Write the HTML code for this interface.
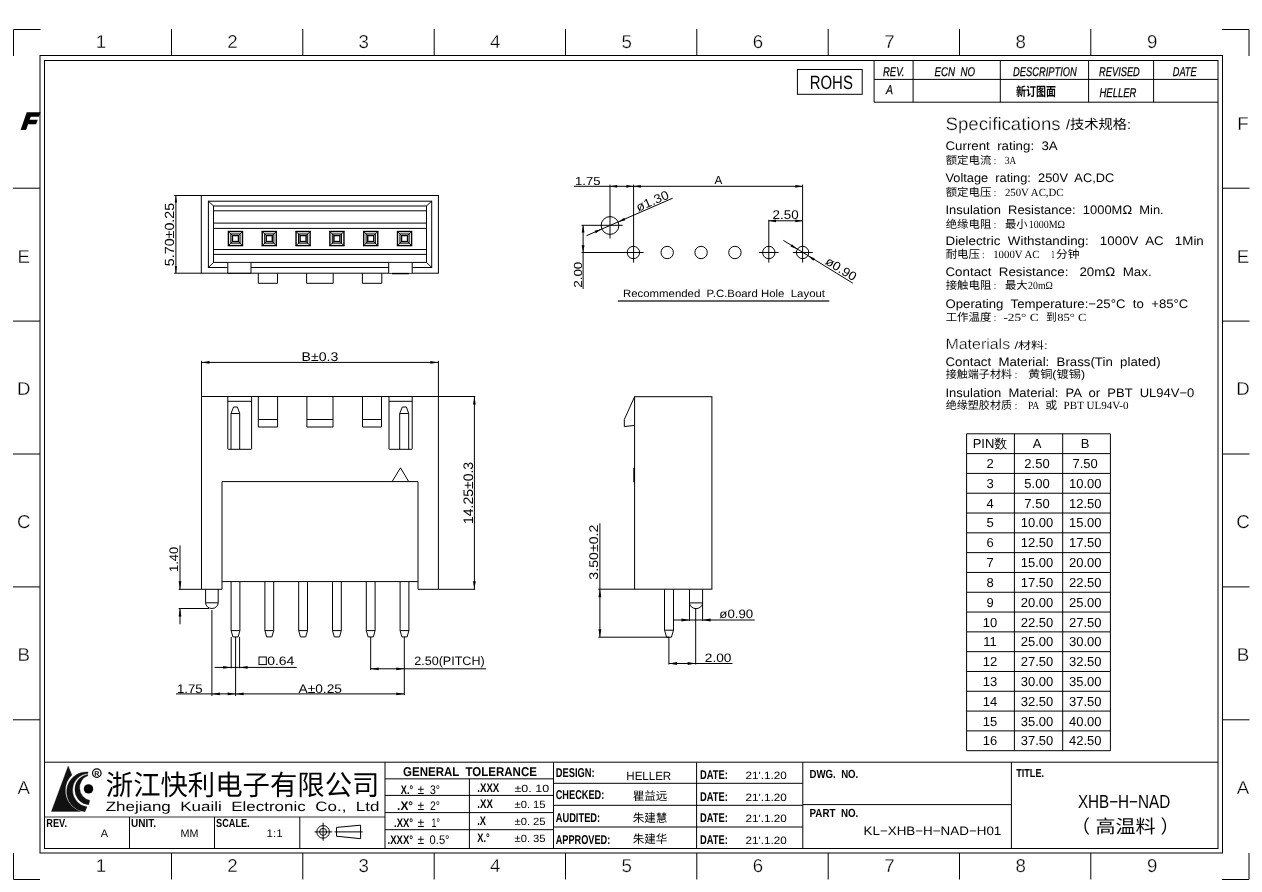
<!DOCTYPE html>
<html><head><meta charset="utf-8"><title>XHB-H-NAD</title>
<style>
html,body{margin:0;padding:0;background:#fff}
svg{display:block;will-change:transform}
text{white-space:pre;text-rendering:geometricPrecision;font-family:"Liberation Sans","Noto Sans CJK SC",sans-serif;fill:#000}
.big{stroke:#fff;stroke-width:.3px}
.i{font-style:italic;stroke:#000;stroke-width:.25px}
.b{font-weight:bold}
.b2{font-weight:bold}
.tb{font-family:"Liberation Sans",sans-serif}
.c{font-family:"Liberation Sans","Noto Sans CJK SC",sans-serif}
.cl{font-family:"Liberation Sans","Noto Sans CJK SC",sans-serif;font-weight:400}
.cb{font-family:"Liberation Sans","Noto Sans CJK SC",sans-serif;font-weight:bold}
.cs{font-family:"Liberation Serif","Noto Sans CJK SC",serif}
</style></head><body>
<svg width="1262" height="892" viewBox="0 0 1262 892">
<rect width="1262" height="892" fill="#fff"/>
<rect x="40" y="55.5" width="1182.5" height="797.5" stroke="#000" stroke-width="1" fill="none"/>
<rect x="44.5" y="60.5" width="1173.5" height="788.0" stroke="#000" stroke-width="1" fill="none"/>
<path d="M13.5,56 V29.5 H40.5" stroke="#000" stroke-width="1" fill="none"/>
<path d="M1222,29.5 H1249 V56" stroke="#000" stroke-width="1" fill="none"/>
<path d="M13.5,853 V879.5 H40" stroke="#000" stroke-width="1" fill="none"/>
<path d="M1249,853 V879.5 H1222" stroke="#000" stroke-width="1" fill="none"/>
<line x1="171.5" y1="29" x2="171.5" y2="55.5" stroke="#000" stroke-width="1"/>
<line x1="171.5" y1="853" x2="171.5" y2="879.5" stroke="#000" stroke-width="1"/>
<line x1="302.8" y1="29" x2="302.8" y2="55.5" stroke="#000" stroke-width="1"/>
<line x1="302.8" y1="853" x2="302.8" y2="879.5" stroke="#000" stroke-width="1"/>
<line x1="434.2" y1="29" x2="434.2" y2="55.5" stroke="#000" stroke-width="1"/>
<line x1="434.2" y1="853" x2="434.2" y2="879.5" stroke="#000" stroke-width="1"/>
<line x1="565.5" y1="29" x2="565.5" y2="55.5" stroke="#000" stroke-width="1"/>
<line x1="565.5" y1="853" x2="565.5" y2="879.5" stroke="#000" stroke-width="1"/>
<line x1="696.8" y1="29" x2="696.8" y2="55.5" stroke="#000" stroke-width="1"/>
<line x1="696.8" y1="853" x2="696.8" y2="879.5" stroke="#000" stroke-width="1"/>
<line x1="828.2" y1="29" x2="828.2" y2="55.5" stroke="#000" stroke-width="1"/>
<line x1="828.2" y1="853" x2="828.2" y2="879.5" stroke="#000" stroke-width="1"/>
<line x1="959.5" y1="29" x2="959.5" y2="55.5" stroke="#000" stroke-width="1"/>
<line x1="959.5" y1="853" x2="959.5" y2="879.5" stroke="#000" stroke-width="1"/>
<line x1="1090.8" y1="29" x2="1090.8" y2="55.5" stroke="#000" stroke-width="1"/>
<line x1="1090.8" y1="853" x2="1090.8" y2="879.5" stroke="#000" stroke-width="1"/>
<line x1="13" y1="188.2" x2="40" y2="188.2" stroke="#000" stroke-width="1"/>
<line x1="1222.5" y1="188.2" x2="1249.5" y2="188.2" stroke="#000" stroke-width="1"/>
<line x1="13" y1="321.1" x2="40" y2="321.1" stroke="#000" stroke-width="1"/>
<line x1="1222.5" y1="321.1" x2="1249.5" y2="321.1" stroke="#000" stroke-width="1"/>
<line x1="13" y1="454.0" x2="40" y2="454.0" stroke="#000" stroke-width="1"/>
<line x1="1222.5" y1="454.0" x2="1249.5" y2="454.0" stroke="#000" stroke-width="1"/>
<line x1="13" y1="586.9" x2="40" y2="586.9" stroke="#000" stroke-width="1"/>
<line x1="1222.5" y1="586.9" x2="1249.5" y2="586.9" stroke="#000" stroke-width="1"/>
<line x1="13" y1="719.8" x2="40" y2="719.8" stroke="#000" stroke-width="1"/>
<line x1="1222.5" y1="719.8" x2="1249.5" y2="719.8" stroke="#000" stroke-width="1"/>
<text x="101.0" y="48.3" font-size="18.7" text-anchor="middle" class="big">1</text>
<text x="101.0" y="872.4" font-size="18.7" text-anchor="middle" class="big">1</text>
<text x="232.4" y="48.3" font-size="18.7" text-anchor="middle" class="big">2</text>
<text x="232.4" y="872.4" font-size="18.7" text-anchor="middle" class="big">2</text>
<text x="363.8" y="48.3" font-size="18.7" text-anchor="middle" class="big">3</text>
<text x="363.8" y="872.4" font-size="18.7" text-anchor="middle" class="big">3</text>
<text x="495.2" y="48.3" font-size="18.7" text-anchor="middle" class="big">4</text>
<text x="495.2" y="872.4" font-size="18.7" text-anchor="middle" class="big">4</text>
<text x="626.6" y="48.3" font-size="18.7" text-anchor="middle" class="big">5</text>
<text x="626.6" y="872.4" font-size="18.7" text-anchor="middle" class="big">5</text>
<text x="758.0" y="48.3" font-size="18.7" text-anchor="middle" class="big">6</text>
<text x="758.0" y="872.4" font-size="18.7" text-anchor="middle" class="big">6</text>
<text x="889.4" y="48.3" font-size="18.7" text-anchor="middle" class="big">7</text>
<text x="889.4" y="872.4" font-size="18.7" text-anchor="middle" class="big">7</text>
<text x="1020.8" y="48.3" font-size="18.7" text-anchor="middle" class="big">8</text>
<text x="1020.8" y="872.4" font-size="18.7" text-anchor="middle" class="big">8</text>
<text x="1152.2" y="48.3" font-size="18.7" text-anchor="middle" class="big">9</text>
<text x="1152.2" y="872.4" font-size="18.7" text-anchor="middle" class="big">9</text>
<text x="1243" y="129.6" font-size="18.7" text-anchor="middle" class="big">F</text>
<text x="1243" y="262.5" font-size="18.7" text-anchor="middle" class="big">E</text>
<text x="23.7" y="262.5" font-size="18.7" text-anchor="middle" class="big">E</text>
<text x="1243" y="395.4" font-size="18.7" text-anchor="middle" class="big">D</text>
<text x="23.7" y="395.4" font-size="18.7" text-anchor="middle" class="big">D</text>
<text x="1243" y="528.3" font-size="18.7" text-anchor="middle" class="big">C</text>
<text x="23.7" y="528.3" font-size="18.7" text-anchor="middle" class="big">C</text>
<text x="1243" y="661.2" font-size="18.7" text-anchor="middle" class="big">B</text>
<text x="23.7" y="661.2" font-size="18.7" text-anchor="middle" class="big">B</text>
<text x="1243" y="794.1" font-size="18.7" text-anchor="middle" class="big">A</text>
<text x="23.7" y="794.1" font-size="18.7" text-anchor="middle" class="big">A</text>
<text transform="translate(21.6 128.5) skewX(-8)" font-size="23" font-weight="bold" font-style="italic" stroke="#000" stroke-width="1.9" textLength="15" lengthAdjust="spacingAndGlyphs">F</text>
<rect x="201.3" y="195.5" width="237.1" height="77.7" stroke="#000" stroke-width="1" fill="none"/>
<rect x="208.4" y="201.2" width="223.3" height="66.3" stroke="#000" stroke-width="1" fill="none"/>
<rect x="213.5" y="206" width="213.0" height="56.4" stroke="#000" stroke-width="1" fill="none"/>
<line x1="208.4" y1="201.2" x2="213.5" y2="206" stroke="#000" stroke-width="1"/>
<line x1="431.7" y1="201.2" x2="426.5" y2="206" stroke="#000" stroke-width="1"/>
<line x1="208.4" y1="267.5" x2="213.5" y2="262.4" stroke="#000" stroke-width="1"/>
<line x1="431.7" y1="267.5" x2="426.5" y2="262.4" stroke="#000" stroke-width="1"/>
<line x1="213.5" y1="210.8" x2="426.5" y2="210.8" stroke="#000" stroke-width="1"/>
<line x1="213.5" y1="223.1" x2="426.5" y2="223.1" stroke="#000" stroke-width="1"/>
<line x1="213.5" y1="228.4" x2="426.5" y2="228.4" stroke="#000" stroke-width="1"/>
<line x1="213.5" y1="249.5" x2="426.5" y2="249.5" stroke="#000" stroke-width="1"/>
<line x1="213.5" y1="254.4" x2="426.5" y2="254.4" stroke="#000" stroke-width="1"/>
<rect x="228.4" y="231.5" width="14.1" height="14.1" stroke="#000" stroke-width="1.4" fill="none"/>
<rect x="230.85" y="233.95" width="9.2" height="9.2" stroke="#000" stroke-width="1" fill="none"/>
<rect x="232.45" y="235.55" width="6.0" height="6.0" stroke="#000" stroke-width="1.4" fill="none"/>
<line x1="228.4" y1="231.5" x2="232.45" y2="235.55" stroke="#000" stroke-width="1"/>
<line x1="228.4" y1="245.6" x2="232.45" y2="241.55" stroke="#000" stroke-width="1"/>
<line x1="242.5" y1="231.5" x2="238.45" y2="235.55" stroke="#000" stroke-width="1"/>
<line x1="242.5" y1="245.6" x2="238.45" y2="241.55" stroke="#000" stroke-width="1"/>
<rect x="262.22" y="231.5" width="14.1" height="14.1" stroke="#000" stroke-width="1.4" fill="none"/>
<rect x="264.67" y="233.95" width="9.2" height="9.2" stroke="#000" stroke-width="1" fill="none"/>
<rect x="266.27" y="235.55" width="6.0" height="6.0" stroke="#000" stroke-width="1.4" fill="none"/>
<line x1="262.22" y1="231.5" x2="266.27" y2="235.55" stroke="#000" stroke-width="1"/>
<line x1="262.22" y1="245.6" x2="266.27" y2="241.55" stroke="#000" stroke-width="1"/>
<line x1="276.32" y1="231.5" x2="272.27" y2="235.55" stroke="#000" stroke-width="1"/>
<line x1="276.32" y1="245.6" x2="272.27" y2="241.55" stroke="#000" stroke-width="1"/>
<rect x="296.04" y="231.5" width="14.1" height="14.1" stroke="#000" stroke-width="1.4" fill="none"/>
<rect x="298.49" y="233.95" width="9.2" height="9.2" stroke="#000" stroke-width="1" fill="none"/>
<rect x="300.09" y="235.55" width="6.0" height="6.0" stroke="#000" stroke-width="1.4" fill="none"/>
<line x1="296.04" y1="231.5" x2="300.09" y2="235.55" stroke="#000" stroke-width="1"/>
<line x1="296.04" y1="245.6" x2="300.09" y2="241.55" stroke="#000" stroke-width="1"/>
<line x1="310.14" y1="231.5" x2="306.09" y2="235.55" stroke="#000" stroke-width="1"/>
<line x1="310.14" y1="245.6" x2="306.09" y2="241.55" stroke="#000" stroke-width="1"/>
<rect x="329.86" y="231.5" width="14.1" height="14.1" stroke="#000" stroke-width="1.4" fill="none"/>
<rect x="332.31" y="233.95" width="9.2" height="9.2" stroke="#000" stroke-width="1" fill="none"/>
<rect x="333.91" y="235.55" width="6.0" height="6.0" stroke="#000" stroke-width="1.4" fill="none"/>
<line x1="329.86" y1="231.5" x2="333.91" y2="235.55" stroke="#000" stroke-width="1"/>
<line x1="329.86" y1="245.6" x2="333.91" y2="241.55" stroke="#000" stroke-width="1"/>
<line x1="343.96" y1="231.5" x2="339.91" y2="235.55" stroke="#000" stroke-width="1"/>
<line x1="343.96" y1="245.6" x2="339.91" y2="241.55" stroke="#000" stroke-width="1"/>
<rect x="363.68" y="231.5" width="14.1" height="14.1" stroke="#000" stroke-width="1.4" fill="none"/>
<rect x="366.13" y="233.95" width="9.2" height="9.2" stroke="#000" stroke-width="1" fill="none"/>
<rect x="367.73" y="235.55" width="6.0" height="6.0" stroke="#000" stroke-width="1.4" fill="none"/>
<line x1="363.68" y1="231.5" x2="367.73" y2="235.55" stroke="#000" stroke-width="1"/>
<line x1="363.68" y1="245.6" x2="367.73" y2="241.55" stroke="#000" stroke-width="1"/>
<line x1="377.78" y1="231.5" x2="373.73" y2="235.55" stroke="#000" stroke-width="1"/>
<line x1="377.78" y1="245.6" x2="373.73" y2="241.55" stroke="#000" stroke-width="1"/>
<rect x="397.5" y="231.5" width="14.1" height="14.1" stroke="#000" stroke-width="1.4" fill="none"/>
<rect x="399.95" y="233.95" width="9.2" height="9.2" stroke="#000" stroke-width="1" fill="none"/>
<rect x="401.55" y="235.55" width="6.0" height="6.0" stroke="#000" stroke-width="1.4" fill="none"/>
<line x1="397.5" y1="231.5" x2="401.55" y2="235.55" stroke="#000" stroke-width="1"/>
<line x1="397.5" y1="245.6" x2="401.55" y2="241.55" stroke="#000" stroke-width="1"/>
<line x1="411.6" y1="231.5" x2="407.55" y2="235.55" stroke="#000" stroke-width="1"/>
<line x1="411.6" y1="245.6" x2="407.55" y2="241.55" stroke="#000" stroke-width="1"/>
<rect x="227.8" y="262.9" width="23.19999999999999" height="9.8" fill="#fff"/>
<line x1="227.8" y1="262.4" x2="227.8" y2="273.2" stroke="#000" stroke-width="1"/>
<line x1="251" y1="262.4" x2="251" y2="273.2" stroke="#000" stroke-width="1"/>
<rect x="388.7" y="262.9" width="23.5" height="9.8" fill="#fff"/>
<line x1="388.7" y1="262.4" x2="388.7" y2="273.2" stroke="#000" stroke-width="1"/>
<line x1="412.2" y1="262.4" x2="412.2" y2="273.2" stroke="#000" stroke-width="1"/>
<line x1="227.8" y1="273.2" x2="251" y2="273.2" stroke="#000" stroke-width="1"/>
<line x1="392" y1="273.6" x2="409" y2="273.6" stroke="#000" stroke-width="1.4"/>
<path d="M258.3,273.2 V283.3 H277.5 V273.2" stroke="#000" stroke-width="1" fill="none"/>
<path d="M306.6,273.2 V283.3 H333.2 V273.2" stroke="#000" stroke-width="1" fill="none"/>
<path d="M362.4,273.2 V283.3 H381.8 V273.2" stroke="#000" stroke-width="1" fill="none"/>
<line x1="174.2" y1="195.5" x2="201.3" y2="195.5" stroke="#000" stroke-width="1"/>
<line x1="174.2" y1="273.2" x2="201.3" y2="273.2" stroke="#000" stroke-width="1"/>
<line x1="175.9" y1="195.5" x2="175.9" y2="273.2" stroke="#000" stroke-width="1"/>
<polygon points="175.90,195.50 177.05,202.50 174.75,202.50" fill="#000"/>
<polygon points="175.90,273.20 174.75,266.20 177.05,266.20" fill="#000"/>
<text transform="translate(174.4 266.2) rotate(-90)" font-size="13.3" textLength="63.4" lengthAdjust="spacingAndGlyphs">5.70±0.25</text>
<line x1="573.9" y1="186.3" x2="802.6" y2="186.3" stroke="#000" stroke-width="1"/>
<polygon points="610.00,186.30 617.20,184.90 617.20,187.70" fill="#000"/>
<polygon points="633.60,186.30 626.40,187.70 626.40,184.90" fill="#000"/>
<polygon points="633.60,186.30 640.80,184.90 640.80,187.70" fill="#000"/>
<polygon points="802.60,186.30 795.40,187.70 795.40,184.90" fill="#000"/>
<text x="575" y="184.7" font-size="11.7" textLength="25.5" lengthAdjust="spacingAndGlyphs">1.75</text>
<text x="718.3" y="184.4" font-size="11.7" text-anchor="middle">A</text>
<line x1="610" y1="184.6" x2="610" y2="238.5" stroke="#000" stroke-width="1"/>
<line x1="633.6" y1="184.6" x2="633.6" y2="262.6" stroke="#000" stroke-width="1"/>
<line x1="802.6" y1="184.6" x2="802.6" y2="262.6" stroke="#000" stroke-width="1"/>
<line x1="768.8" y1="219.8" x2="768.8" y2="262.6" stroke="#000" stroke-width="1"/>
<circle cx="610" cy="225.5" r="8.9" stroke="#000" stroke-width="1" fill="none"/>
<line x1="581.5" y1="225.3" x2="622.7" y2="225.3" stroke="#000" stroke-width="1"/>
<circle cx="633.4" cy="252.5" r="6.2" stroke="#000" stroke-width="1" fill="none"/>
<circle cx="667.2" cy="252.5" r="6.2" stroke="#000" stroke-width="1" fill="none"/>
<circle cx="701.1" cy="252.5" r="6.2" stroke="#000" stroke-width="1" fill="none"/>
<circle cx="734.9" cy="252.5" r="6.2" stroke="#000" stroke-width="1" fill="none"/>
<circle cx="768.8" cy="252.5" r="6.2" stroke="#000" stroke-width="1" fill="none"/>
<circle cx="802.6" cy="252.5" r="6.2" stroke="#000" stroke-width="1" fill="none"/>
<line x1="581.5" y1="252.5" x2="643.6" y2="252.5" stroke="#000" stroke-width="1"/>
<line x1="759" y1="252.5" x2="778.6" y2="252.5" stroke="#000" stroke-width="1"/>
<line x1="792.9" y1="252.5" x2="812.8" y2="252.5" stroke="#000" stroke-width="1"/>
<line x1="583.1" y1="225.3" x2="583.1" y2="289" stroke="#000" stroke-width="1"/>
<polygon points="583.10,225.30 584.50,232.50 581.70,232.50" fill="#000"/>
<polygon points="583.10,252.50 581.70,245.30 584.50,245.30" fill="#000"/>
<text transform="translate(581.8 287.8) rotate(-90)" font-size="11.7" textLength="26.1" lengthAdjust="spacingAndGlyphs">2.00</text>
<line x1="768.8" y1="220.8" x2="802.6" y2="220.8" stroke="#000" stroke-width="1"/>
<polygon points="768.80,220.80 776.00,219.40 776.00,222.20" fill="#000"/>
<polygon points="802.60,220.80 795.40,222.20 795.40,219.40" fill="#000"/>
<text x="772.6" y="219" font-size="12.6" textLength="26.0" lengthAdjust="spacingAndGlyphs">2.50</text>
<line x1="586.5" y1="235.7" x2="672.7" y2="198.2" stroke="#000" stroke-width="1"/>
<polygon points="618.20,221.90 624.24,217.75 625.36,220.31" fill="#000"/>
<polygon points="601.80,229.05 595.76,233.20 594.64,230.64" fill="#000"/>
<text transform="translate(638.2 211.8) rotate(-23.5)" font-size="12.5" textLength="34.5" lengthAdjust="spacingAndGlyphs">ø1.30</text>
<line x1="783.4" y1="240.4" x2="852.8" y2="283.2" stroke="#000" stroke-width="1"/>
<polygon points="797.30,249.20 790.44,246.61 791.91,244.23" fill="#000"/>
<polygon points="807.90,255.80 814.76,258.39 813.29,260.77" fill="#000"/>
<text transform="translate(824.4 263.6) rotate(31.7)" font-size="12.5" textLength="34" lengthAdjust="spacingAndGlyphs">ø0.90</text>
<text x="622.9" y="297.2" font-size="10.6" textLength="202.1" lengthAdjust="spacingAndGlyphs">Recommended  P.C.Board Hole  Layout</text>
<line x1="617.8" y1="301" x2="829.3" y2="301" stroke="#333" stroke-width="1.3"/>
<path d="M201.5,589.3 V396.5 H438.4 V589.3 H418 V481.6 H222 V589.3 Z" stroke="#000" stroke-width="1" fill="none"/>
<line x1="222" y1="581.6" x2="418" y2="581.6" stroke="#000" stroke-width="1"/>
<path d="M227.8,396.5 V448.8 Q227.8,449.3 228.3,449.3 H251.1 Q251.6,449.3 251.6,448.8 V396.5" stroke="#000" stroke-width="1" fill="none"/>
<line x1="227.8" y1="401.3" x2="251.6" y2="401.3" stroke="#000" stroke-width="1"/>
<path d="M231,449.3 V413.5 L233.6,407 H237.39999999999998 L239.7,413.5 V449.3 M231,413.5 H239.7" stroke="#000" stroke-width="1" fill="none"/>
<path d="M389,396.5 V448.8 Q389,449.3 389.5,449.3 H411.7 Q412.2,449.3 412.2,448.8 V396.5" stroke="#000" stroke-width="1" fill="none"/>
<line x1="389" y1="401.3" x2="412.2" y2="401.3" stroke="#000" stroke-width="1"/>
<path d="M399.7,449.3 V413.5 L402.3,407 H406.4 L408.7,413.5 V449.3 M399.7,413.5 H408.7" stroke="#000" stroke-width="1" fill="none"/>
<path d="M258.3,396.5 V427 H277.6 V396.5 M258.3,419.5 H277.6" stroke="#000" stroke-width="1" fill="none"/>
<path d="M306.9,396.5 V427 H333 V396.5 M306.9,419.5 H333" stroke="#000" stroke-width="1" fill="none"/>
<path d="M362.5,396.5 V427 H381.5 V396.5 M362.5,419.5 H381.5" stroke="#000" stroke-width="1" fill="none"/>
<path d="M392.1,481.6 L400.5,467.8 L408.7,481.6" stroke="#000" stroke-width="1" fill="none"/>
<line x1="201.5" y1="360.8" x2="201.5" y2="396.5" stroke="#000" stroke-width="1"/>
<line x1="438.4" y1="360.8" x2="438.4" y2="396.5" stroke="#000" stroke-width="1"/>
<line x1="201.5" y1="362.4" x2="438.4" y2="362.4" stroke="#000" stroke-width="1"/>
<polygon points="201.50,362.40 209.50,361.00 209.50,363.80" fill="#000"/>
<polygon points="438.40,362.40 430.40,363.80 430.40,361.00" fill="#000"/>
<text x="301.5" y="360.6" font-size="12.6" textLength="36.8" lengthAdjust="spacingAndGlyphs">B±0.3</text>
<line x1="438.4" y1="396.5" x2="475.3" y2="396.5" stroke="#000" stroke-width="1"/>
<line x1="438.4" y1="589.3" x2="475.2" y2="589.3" stroke="#000" stroke-width="1"/>
<line x1="474.4" y1="396.5" x2="474.4" y2="589.3" stroke="#000" stroke-width="1"/>
<polygon points="474.40,396.50 475.80,404.50 473.00,404.50" fill="#000"/>
<polygon points="474.40,589.30 473.00,581.30 475.80,581.30" fill="#000"/>
<text transform="translate(473.2 524) rotate(-90)" font-size="13.8" textLength="62.1" lengthAdjust="spacingAndGlyphs">14.25±0.3</text>
<path d="M231.1,581.6 V630.6 L232.9,636.9 H238.1 L239.9,630.6 V581.6 M231.1,630.6 H239.9" stroke="#000" stroke-width="1" fill="none"/>
<path d="M264.9,581.6 V630.6 L266.7,636.9 H271.9 L273.7,630.6 V581.6 M264.9,630.6 H273.7" stroke="#000" stroke-width="1" fill="none"/>
<path d="M298.7,581.6 V630.6 L300.5,636.9 H305.7 L307.5,630.6 V581.6 M298.7,630.6 H307.5" stroke="#000" stroke-width="1" fill="none"/>
<path d="M332.5,581.6 V630.6 L334.3,636.9 H339.5 L341.3,630.6 V581.6 M332.5,630.6 H341.3" stroke="#000" stroke-width="1" fill="none"/>
<path d="M366.3,581.6 V630.6 L368.1,636.9 H373.3 L375.1,630.6 V581.6 M366.3,630.6 H375.1" stroke="#000" stroke-width="1" fill="none"/>
<path d="M400.1,581.6 V630.6 L401.9,636.9 H407.1 L408.9,630.6 V581.6 M400.1,630.6 H408.9" stroke="#000" stroke-width="1" fill="none"/>
<path d="M205.6,589.3 V602.8 A6.3,5.7 0 0 0 218.2,602.8 V589.3 M205.6,602.8 H218.2" stroke="#000" stroke-width="1" fill="none"/>
<line x1="178.7" y1="589.3" x2="201.5" y2="589.3" stroke="#000" stroke-width="1"/>
<line x1="178.7" y1="608.5" x2="209" y2="608.5" stroke="#000" stroke-width="1"/>
<line x1="180" y1="545.4" x2="180" y2="589.3" stroke="#000" stroke-width="1"/>
<line x1="180" y1="608.5" x2="180" y2="624.3" stroke="#000" stroke-width="1"/>
<polygon points="180.00,589.30 178.60,581.30 181.40,581.30" fill="#000"/>
<polygon points="180.00,608.50 181.40,616.50 178.60,616.50" fill="#000"/>
<text transform="translate(178.3 572) rotate(-90)" font-size="12.4" textLength="25.2" lengthAdjust="spacingAndGlyphs">1.40</text>
<line x1="211.9" y1="610" x2="211.9" y2="696" stroke="#000" stroke-width="1"/>
<line x1="231.2" y1="636.9" x2="231.2" y2="668.3" stroke="#000" stroke-width="1"/>
<line x1="239.6" y1="636.9" x2="239.6" y2="668.3" stroke="#000" stroke-width="1"/>
<line x1="235.6" y1="636.9" x2="235.6" y2="696" stroke="#000" stroke-width="1"/>
<line x1="214.6" y1="667.4" x2="296.7" y2="667.4" stroke="#000" stroke-width="1"/>
<polygon points="231.20,667.40 223.20,668.80 223.20,666.00" fill="#000"/>
<polygon points="239.60,667.40 247.60,666.00 247.60,668.80" fill="#000"/>
<rect x="259" y="657" width="7.3" height="7.6" stroke="#000" stroke-width="1" fill="none"/>
<text x="267.2" y="665.2" font-size="12.3" textLength="27.2" lengthAdjust="spacingAndGlyphs">0.64</text>
<line x1="176" y1="693.9" x2="404.3" y2="693.9" stroke="#000" stroke-width="1"/>
<polygon points="211.90,693.90 219.90,692.50 219.90,695.30" fill="#000"/>
<polygon points="235.60,693.90 227.60,695.30 227.60,692.50" fill="#000"/>
<polygon points="235.60,693.90 243.60,692.50 243.60,695.30" fill="#000"/>
<polygon points="404.30,693.90 396.30,695.30 396.30,692.50" fill="#000"/>
<text x="176.9" y="692.5" font-size="12.5" textLength="25.7" lengthAdjust="spacingAndGlyphs">1.75</text>
<text x="298.5" y="692.5" font-size="12.5" textLength="43.5" lengthAdjust="spacingAndGlyphs">A±0.25</text>
<line x1="370.7" y1="636.9" x2="370.7" y2="670" stroke="#000" stroke-width="1"/>
<line x1="404.3" y1="636.9" x2="404.3" y2="695.2" stroke="#000" stroke-width="1"/>
<line x1="370.7" y1="668.8" x2="486" y2="668.8" stroke="#000" stroke-width="1"/>
<polygon points="370.70,668.80 378.70,667.40 378.70,670.20" fill="#000"/>
<polygon points="404.30,668.80 396.30,670.20 396.30,667.40" fill="#000"/>
<text x="414.2" y="664.7" font-size="12.3" textLength="70.5" lengthAdjust="spacingAndGlyphs">2.50(PITCH)</text>
<rect x="634.6" y="396.7" width="77.3" height="192.5" stroke="#000" stroke-width="1" fill="none"/>
<path d="M634.6,396.7 L624.3,419.5 V426.6 L634.6,425.4" stroke="#000" stroke-width="1" fill="none"/>
<line x1="634.1" y1="467.9" x2="634.1" y2="482.2" stroke="#000" stroke-width="1.6"/>
<path d="M664.5,589.2 V630.2 L666.6,637.2 H671.4 L673.5,630.2 V589.2 M664.5,630.2 H673.5" stroke="#000" stroke-width="1" fill="none"/>
<path d="M689.5,589.2 V602.9 A6.55,5.7 0 0 0 702.6,602.9 V589.2 M689.5,602.9 H702.6" stroke="#000" stroke-width="1" fill="none"/>
<line x1="689.5" y1="602.9" x2="689.5" y2="621" stroke="#000" stroke-width="1"/>
<line x1="702.6" y1="602.9" x2="702.6" y2="621" stroke="#000" stroke-width="1"/>
<line x1="598.3" y1="589.2" x2="634.6" y2="589.2" stroke="#000" stroke-width="1"/>
<line x1="598.3" y1="637.2" x2="668.9" y2="637.2" stroke="#000" stroke-width="1"/>
<line x1="599.9" y1="523.2" x2="599.9" y2="637.2" stroke="#000" stroke-width="1"/>
<polygon points="599.90,589.20 601.30,597.20 598.50,597.20" fill="#000"/>
<polygon points="599.90,637.20 598.50,629.20 601.30,629.20" fill="#000"/>
<text transform="translate(598.3 579.7) rotate(-90)" font-size="12.6" textLength="55.1" lengthAdjust="spacingAndGlyphs">3.50±0.2</text>
<line x1="673.5" y1="620" x2="702.6" y2="620" stroke="#000" stroke-width="1"/>
<line x1="702.6" y1="620" x2="754.7" y2="620" stroke="#000" stroke-width="1"/>
<polygon points="689.50,620.00 681.50,621.40 681.50,618.60" fill="#000"/>
<polygon points="702.60,620.00 710.60,618.60 710.60,621.40" fill="#000"/>
<text x="719.3" y="618" font-size="12.3" textLength="33.9" lengthAdjust="spacingAndGlyphs">ø0.90</text>
<line x1="668.9" y1="637.2" x2="668.9" y2="664.5" stroke="#000" stroke-width="1"/>
<line x1="695.7" y1="608.6" x2="695.7" y2="664.5" stroke="#000" stroke-width="1"/>
<line x1="668.9" y1="663.5" x2="732.5" y2="663.5" stroke="#000" stroke-width="1"/>
<polygon points="668.90,663.50 676.90,662.10 676.90,664.90" fill="#000"/>
<polygon points="695.70,663.50 687.70,664.90 687.70,662.10" fill="#000"/>
<text x="704.8" y="661.5" font-size="12.3" textLength="26.7" lengthAdjust="spacingAndGlyphs">2.00</text>
<rect x="797.4" y="69.5" width="64.8" height="24.8" stroke="#000" stroke-width="1" fill="none"/>
<text x="809.7" y="89.3" font-size="19.2" textLength="43.2" lengthAdjust="spacingAndGlyphs">ROHS</text>
<line x1="874.1" y1="60.5" x2="874.1" y2="102.2" stroke="#000" stroke-width="1"/>
<line x1="874.1" y1="79.4" x2="1218" y2="79.4" stroke="#000" stroke-width="1"/>
<line x1="874.1" y1="102.2" x2="1218" y2="102.2" stroke="#000" stroke-width="1"/>
<line x1="913.1" y1="60.5" x2="913.1" y2="102.2" stroke="#000" stroke-width="1"/>
<line x1="1000.3" y1="60.5" x2="1000.3" y2="102.2" stroke="#000" stroke-width="1"/>
<line x1="1088.6" y1="60.5" x2="1088.6" y2="102.2" stroke="#000" stroke-width="1"/>
<line x1="1153.6" y1="60.5" x2="1153.6" y2="102.2" stroke="#000" stroke-width="1"/>
<text x="883" y="76" font-size="12.7" textLength="21.4" lengthAdjust="spacingAndGlyphs" class="i">REV.</text>
<text x="934.5" y="76" font-size="12.7" textLength="40.6" lengthAdjust="spacingAndGlyphs" class="i">ECN  NO</text>
<text x="1013" y="76" font-size="12.7" textLength="63.8" lengthAdjust="spacingAndGlyphs" class="i">DESCRIPTION</text>
<text x="1099.1" y="76" font-size="12.7" textLength="40.7" lengthAdjust="spacingAndGlyphs" class="i">REVISED</text>
<text x="1172.8" y="76" font-size="12.7" textLength="23.8" lengthAdjust="spacingAndGlyphs" class="i">DATE</text>
<text x="886" y="94" font-size="12.7" textLength="7" lengthAdjust="spacingAndGlyphs" class="i">A</text>
<text x="1016" y="96" font-size="12.5" textLength="40" lengthAdjust="spacingAndGlyphs" class="cb">新订图面</text>
<text x="1099.5" y="96.7" font-size="12.7" textLength="36.9" lengthAdjust="spacingAndGlyphs" class="i">HELLER</text>
<text x="945.5" y="129.7" font-size="18" textLength="115.2" lengthAdjust="spacingAndGlyphs" class="big">Specifications</text>
<text x="1066" y="129.2" font-size="13.5" textLength="64.9" lengthAdjust="spacingAndGlyphs" class="c">/技术规格:</text>
<text x="945.5" y="150.4" font-size="12.4" textLength="112.2" lengthAdjust="spacingAndGlyphs">Current  rating:  3A</text>
<text x="945.5" y="182" font-size="12.4" textLength="168.7" lengthAdjust="spacingAndGlyphs">Voltage  rating:  250V  AC,DC</text>
<text x="945.5" y="213.9" font-size="12.4" textLength="218.2" lengthAdjust="spacingAndGlyphs">Insulation  Resistance:  1000MΩ  Min.</text>
<text x="945.5" y="245" font-size="12.4" textLength="258.3" lengthAdjust="spacingAndGlyphs">Dielectric  Withstanding:   1000V  AC   1Min</text>
<text x="945.5" y="276.1" font-size="12.4" textLength="206.1" lengthAdjust="spacingAndGlyphs">Contact  Resistance:   20mΩ  Max.</text>
<text x="945.5" y="307.8" font-size="12.4" textLength="242.9" lengthAdjust="spacingAndGlyphs">Operating  Temperature:−25°C  to  +85°C</text>
<text x="945.5" y="349.1" font-size="15" textLength="64.6" lengthAdjust="spacingAndGlyphs" class="big">Materials</text>
<text x="1014.4" y="348.6" font-size="10.5" textLength="33.3" lengthAdjust="spacingAndGlyphs" class="c">/材料:</text>
<text x="945.5" y="365.8" font-size="12.4" textLength="215.1" lengthAdjust="spacingAndGlyphs">Contact  Material:  Brass(Tin  plated)</text>
<text x="945.5" y="396.7" font-size="12.4" textLength="248.8" lengthAdjust="spacingAndGlyphs">Insulation  Material:  PA  or  PBT  UL94V−0</text>
<text x="945.7" y="164.2" font-size="11" textLength="45.6" lengthAdjust="spacingAndGlyphs" class="c">额定电流</text>
<text x="994" y="164.2" font-size="11" textLength="2" lengthAdjust="spacingAndGlyphs" class="cs">:</text>
<text x="1004.9" y="164.2" font-size="11" textLength="11.1" lengthAdjust="spacingAndGlyphs" class="cs">3A</text>
<text x="945.7" y="196" font-size="11" textLength="45.6" lengthAdjust="spacingAndGlyphs" class="c">额定电压</text>
<text x="994" y="196" font-size="11" textLength="2" lengthAdjust="spacingAndGlyphs" class="cs">:</text>
<text x="1004.9" y="196" font-size="11" textLength="58.7" lengthAdjust="spacingAndGlyphs" class="cs">250V AC,DC</text>
<text x="945.7" y="227.7" font-size="11" textLength="45.6" lengthAdjust="spacingAndGlyphs" class="c">绝缘电阻</text>
<text x="994" y="227.7" font-size="11" textLength="2" lengthAdjust="spacingAndGlyphs" class="cs">:</text>
<text x="1004.9" y="227.7" font-size="11" textLength="22.6" lengthAdjust="spacingAndGlyphs" class="c">最小</text>
<text x="1028.7" y="227.7" font-size="11" textLength="36.3" lengthAdjust="spacingAndGlyphs" class="cs">1000MΩ</text>
<text x="945.7" y="257.9" font-size="11" textLength="34.2" lengthAdjust="spacingAndGlyphs" class="c">耐电压</text>
<text x="982.3" y="257.9" font-size="11" textLength="2.0" lengthAdjust="spacingAndGlyphs" class="cs">:</text>
<text x="993.2" y="257.9" font-size="11" textLength="46.3" lengthAdjust="spacingAndGlyphs" class="cs">1000V AC</text>
<text x="1051.3" y="257.9" font-size="11" textLength="3.4" lengthAdjust="spacingAndGlyphs" class="cs">1</text>
<text x="1056" y="257.9" font-size="11" textLength="23.5" lengthAdjust="spacingAndGlyphs" class="c">分钟</text>
<text x="945.7" y="289.2" font-size="11" textLength="45.6" lengthAdjust="spacingAndGlyphs" class="c">接触电阻</text>
<text x="994" y="289.2" font-size="11" textLength="2" lengthAdjust="spacingAndGlyphs" class="cs">:</text>
<text x="1004.9" y="289.2" font-size="11" textLength="22.6" lengthAdjust="spacingAndGlyphs" class="c">最大</text>
<text x="1028.1" y="289.2" font-size="11" textLength="24.7" lengthAdjust="spacingAndGlyphs" class="cs">20mΩ</text>
<text x="945.7" y="321.3" font-size="11" textLength="45.6" lengthAdjust="spacingAndGlyphs" class="c">工作温度</text>
<text x="994" y="321.3" font-size="11" textLength="2" lengthAdjust="spacingAndGlyphs" class="cs">:</text>
<text x="1003.4" y="321.3" font-size="11" textLength="35.2" lengthAdjust="spacingAndGlyphs" class="cs">-25° C</text>
<text x="1045.9" y="321.3" font-size="11" textLength="10.7" lengthAdjust="spacingAndGlyphs" class="c">到</text>
<text x="1057.3" y="321.3" font-size="11" textLength="29.1" lengthAdjust="spacingAndGlyphs" class="cs">85° C</text>
<text x="945.7" y="377.7" font-size="11" textLength="66.3" lengthAdjust="spacingAndGlyphs" class="c">接触端子材料</text>
<text x="1015" y="377.7" font-size="11" textLength="2" lengthAdjust="spacingAndGlyphs" class="cs">:</text>
<text x="1027.9" y="377.7" font-size="11" textLength="57.1" lengthAdjust="spacingAndGlyphs" class="c">黄铜(镀锡)</text>
<text x="945.7" y="408.8" font-size="11" textLength="66.3" lengthAdjust="spacingAndGlyphs" class="c">绝缘塑胶材质</text>
<text x="1015" y="408.8" font-size="11" textLength="2" lengthAdjust="spacingAndGlyphs" class="cs">:</text>
<text x="1027.9" y="408.8" font-size="11" textLength="11.4" lengthAdjust="spacingAndGlyphs" class="cs">PA</text>
<text x="1045.3" y="408.8" font-size="11" textLength="11.9" lengthAdjust="spacingAndGlyphs" class="c">或</text>
<text x="1063.6" y="408.8" font-size="11" textLength="64.9" lengthAdjust="spacingAndGlyphs" class="cs">PBT UL94V-0</text>
<line x1="966.6" y1="433.8" x2="1110.4" y2="433.8" stroke="#000" stroke-width="1"/>
<line x1="966.6" y1="453.61" x2="1110.4" y2="453.61" stroke="#000" stroke-width="1"/>
<line x1="966.6" y1="473.41" x2="1110.4" y2="473.41" stroke="#000" stroke-width="1"/>
<line x1="966.6" y1="493.22" x2="1110.4" y2="493.22" stroke="#000" stroke-width="1"/>
<line x1="966.6" y1="513.02" x2="1110.4" y2="513.02" stroke="#000" stroke-width="1"/>
<line x1="966.6" y1="532.83" x2="1110.4" y2="532.83" stroke="#000" stroke-width="1"/>
<line x1="966.6" y1="552.64" x2="1110.4" y2="552.64" stroke="#000" stroke-width="1"/>
<line x1="966.6" y1="572.44" x2="1110.4" y2="572.44" stroke="#000" stroke-width="1"/>
<line x1="966.6" y1="592.25" x2="1110.4" y2="592.25" stroke="#000" stroke-width="1"/>
<line x1="966.6" y1="612.06" x2="1110.4" y2="612.06" stroke="#000" stroke-width="1"/>
<line x1="966.6" y1="631.86" x2="1110.4" y2="631.86" stroke="#000" stroke-width="1"/>
<line x1="966.6" y1="651.67" x2="1110.4" y2="651.67" stroke="#000" stroke-width="1"/>
<line x1="966.6" y1="671.48" x2="1110.4" y2="671.48" stroke="#000" stroke-width="1"/>
<line x1="966.6" y1="691.28" x2="1110.4" y2="691.28" stroke="#000" stroke-width="1"/>
<line x1="966.6" y1="711.09" x2="1110.4" y2="711.09" stroke="#000" stroke-width="1"/>
<line x1="966.6" y1="730.89" x2="1110.4" y2="730.89" stroke="#000" stroke-width="1"/>
<line x1="966.6" y1="750.7" x2="1110.4" y2="750.7" stroke="#000" stroke-width="1"/>
<line x1="966.6" y1="433.8" x2="966.6" y2="750.7" stroke="#000" stroke-width="1"/>
<line x1="1014.4" y1="433.8" x2="1014.4" y2="750.7" stroke="#000" stroke-width="1"/>
<line x1="1062.7" y1="433.8" x2="1062.7" y2="750.7" stroke="#000" stroke-width="1"/>
<line x1="1110.4" y1="433.8" x2="1110.4" y2="750.7" stroke="#000" stroke-width="1"/>
<text x="990" y="448.2" font-size="13" text-anchor="middle" class="tb">PIN数</text>
<text x="1037" y="448.2" font-size="13" text-anchor="middle" class="tb">A</text>
<text x="1085.2" y="448.2" font-size="13" text-anchor="middle" class="tb">B</text>
<text x="990" y="468.0" font-size="13" text-anchor="middle" class="tb">2</text>
<text x="1037" y="468.0" font-size="13" text-anchor="middle" class="tb">2.50</text>
<text x="1085.2" y="468.0" font-size="13" text-anchor="middle" class="tb">7.50</text>
<text x="990" y="487.8" font-size="13" text-anchor="middle" class="tb">3</text>
<text x="1037" y="487.8" font-size="13" text-anchor="middle" class="tb">5.00</text>
<text x="1085.2" y="487.8" font-size="13" text-anchor="middle" class="tb">10.00</text>
<text x="990" y="507.6" font-size="13" text-anchor="middle" class="tb">4</text>
<text x="1037" y="507.6" font-size="13" text-anchor="middle" class="tb">7.50</text>
<text x="1085.2" y="507.6" font-size="13" text-anchor="middle" class="tb">12.50</text>
<text x="990" y="527.4" font-size="13" text-anchor="middle" class="tb">5</text>
<text x="1037" y="527.4" font-size="13" text-anchor="middle" class="tb">10.00</text>
<text x="1085.2" y="527.4" font-size="13" text-anchor="middle" class="tb">15.00</text>
<text x="990" y="547.2" font-size="13" text-anchor="middle" class="tb">6</text>
<text x="1037" y="547.2" font-size="13" text-anchor="middle" class="tb">12.50</text>
<text x="1085.2" y="547.2" font-size="13" text-anchor="middle" class="tb">17.50</text>
<text x="990" y="567.0" font-size="13" text-anchor="middle" class="tb">7</text>
<text x="1037" y="567.0" font-size="13" text-anchor="middle" class="tb">15.00</text>
<text x="1085.2" y="567.0" font-size="13" text-anchor="middle" class="tb">20.00</text>
<text x="990" y="586.8" font-size="13" text-anchor="middle" class="tb">8</text>
<text x="1037" y="586.8" font-size="13" text-anchor="middle" class="tb">17.50</text>
<text x="1085.2" y="586.8" font-size="13" text-anchor="middle" class="tb">22.50</text>
<text x="990" y="606.6" font-size="13" text-anchor="middle" class="tb">9</text>
<text x="1037" y="606.6" font-size="13" text-anchor="middle" class="tb">20.00</text>
<text x="1085.2" y="606.6" font-size="13" text-anchor="middle" class="tb">25.00</text>
<text x="990" y="626.5" font-size="13" text-anchor="middle" class="tb">10</text>
<text x="1037" y="626.5" font-size="13" text-anchor="middle" class="tb">22.50</text>
<text x="1085.2" y="626.5" font-size="13" text-anchor="middle" class="tb">27.50</text>
<text x="990" y="646.3" font-size="13" text-anchor="middle" class="tb">11</text>
<text x="1037" y="646.3" font-size="13" text-anchor="middle" class="tb">25.00</text>
<text x="1085.2" y="646.3" font-size="13" text-anchor="middle" class="tb">30.00</text>
<text x="990" y="666.1" font-size="13" text-anchor="middle" class="tb">12</text>
<text x="1037" y="666.1" font-size="13" text-anchor="middle" class="tb">27.50</text>
<text x="1085.2" y="666.1" font-size="13" text-anchor="middle" class="tb">32.50</text>
<text x="990" y="685.9" font-size="13" text-anchor="middle" class="tb">13</text>
<text x="1037" y="685.9" font-size="13" text-anchor="middle" class="tb">30.00</text>
<text x="1085.2" y="685.9" font-size="13" text-anchor="middle" class="tb">35.00</text>
<text x="990" y="705.7" font-size="13" text-anchor="middle" class="tb">14</text>
<text x="1037" y="705.7" font-size="13" text-anchor="middle" class="tb">32.50</text>
<text x="1085.2" y="705.7" font-size="13" text-anchor="middle" class="tb">37.50</text>
<text x="990" y="725.5" font-size="13" text-anchor="middle" class="tb">15</text>
<text x="1037" y="725.5" font-size="13" text-anchor="middle" class="tb">35.00</text>
<text x="1085.2" y="725.5" font-size="13" text-anchor="middle" class="tb">40.00</text>
<text x="990" y="745.3" font-size="13" text-anchor="middle" class="tb">16</text>
<text x="1037" y="745.3" font-size="13" text-anchor="middle" class="tb">37.50</text>
<text x="1085.2" y="745.3" font-size="13" text-anchor="middle" class="tb">42.50</text>
<line x1="44.5" y1="762.2" x2="1218" y2="762.2" stroke="#000" stroke-width="1"/>
<line x1="44.5" y1="817" x2="385" y2="817" stroke="#333" stroke-width="1.2"/>
<line x1="129.5" y1="817" x2="129.5" y2="848.5" stroke="#000" stroke-width="1"/>
<line x1="214.5" y1="817" x2="214.5" y2="848.5" stroke="#000" stroke-width="1"/>
<line x1="299.8" y1="817" x2="299.8" y2="848.5" stroke="#000" stroke-width="1"/>
<line x1="385" y1="762.2" x2="385" y2="848.5" stroke="#000" stroke-width="1"/>
<line x1="553.5" y1="762.2" x2="553.5" y2="848.5" stroke="#000" stroke-width="1"/>
<line x1="802.8" y1="762.2" x2="802.8" y2="848.5" stroke="#000" stroke-width="1"/>
<line x1="1011.4" y1="762.2" x2="1011.4" y2="848.5" stroke="#000" stroke-width="1"/>
<line x1="385" y1="778.85" x2="553.5" y2="778.85" stroke="#000" stroke-width="1"/>
<line x1="385" y1="795.4" x2="553.5" y2="795.4" stroke="#000" stroke-width="1"/>
<line x1="385" y1="812.6" x2="553.5" y2="812.6" stroke="#000" stroke-width="1"/>
<line x1="385" y1="829.7" x2="553.5" y2="829.7" stroke="#000" stroke-width="1"/>
<line x1="469.4" y1="778.85" x2="469.4" y2="848.5" stroke="#000" stroke-width="1"/>
<line x1="553.5" y1="783.3" x2="802.8" y2="783.3" stroke="#000" stroke-width="1"/>
<line x1="553.5" y1="805.3" x2="802.8" y2="805.3" stroke="#000" stroke-width="1"/>
<line x1="553.5" y1="827" x2="802.8" y2="827" stroke="#000" stroke-width="1"/>
<line x1="696.6" y1="762.3" x2="696.6" y2="848.5" stroke="#000" stroke-width="1"/>
<line x1="802.8" y1="804.6" x2="1011.4" y2="804.6" stroke="#000" stroke-width="1"/>
<path d="M68.2,766.1 L51.4,811.4 H80.65 A21.75,21.75 0 0 1 65.39,789.59 A21.75,21.75 0 0 1 71.91,774.93 Z" stroke="#000" stroke-width="0.3" fill="#111"/>
<path d="M88.05,771.97 A19.9,19.9 0 0 0 66.73,789.59 A19.9,19.9 0 0 0 85.02,811.65 L87.04,806.74 A16.75,16.75 0 0 1 72.58,789.59 A16.75,16.75 0 0 1 88.05,773.45 Z" stroke="#000" stroke-width="0.3" fill="#111"/>
<path d="M87.71,774.46 A15.0,15.0 0 0 0 74.9,789.59 A15.0,15.0 0 0 0 88.72,804.72 L89.73,800.35 A12.93,12.93 0 0 1 79.64,788.58 A12.93,12.93 0 0 1 88.05,775.6 Z" stroke="#000" stroke-width="0.3" fill="#111"/>
<circle cx="88.5" cy="788.9" r="4.7" stroke="#000" stroke-width="0" fill="#000"/>
<circle cx="96.8" cy="773.1" r="4.3" stroke="#000" stroke-width="1.2" fill="none"/>
<text x="96.9" y="775.7" font-size="7" text-anchor="middle" font-weight="bold">R</text>
<text x="105.8" y="794.6" font-size="28" textLength="273.6" lengthAdjust="spacingAndGlyphs" class="cl">浙江快利电子有限公司</text>
<text x="105.7" y="811.2" font-size="13.5" textLength="273.7" lengthAdjust="spacingAndGlyphs">Zhejiang  Kuaili  Electronic  Co.,  Ltd</text>
<text x="46.3" y="827.4" font-size="11.7" textLength="20.7" lengthAdjust="spacingAndGlyphs" class="b">REV.</text>
<text x="131.1" y="827.4" font-size="11.7" textLength="25.0" lengthAdjust="spacingAndGlyphs" class="b">UNIT.</text>
<text x="216.1" y="827.4" font-size="11.7" textLength="33.5" lengthAdjust="spacingAndGlyphs" class="b">SCALE.</text>
<text x="100.7" y="837" font-size="11" textLength="7.3" lengthAdjust="spacingAndGlyphs">A</text>
<text x="180.5" y="837" font-size="11" textLength="17.9" lengthAdjust="spacingAndGlyphs">MM</text>
<text x="266.6" y="837" font-size="11" textLength="16.1" lengthAdjust="spacingAndGlyphs">1:1</text>
<circle cx="323.1" cy="831.9" r="6.3" stroke="#000" stroke-width="1" fill="none"/>
<circle cx="323.1" cy="831.9" r="3.5" stroke="#000" stroke-width="1" fill="none"/>
<line x1="314.5" y1="831.9" x2="332.3" y2="831.9" stroke="#000" stroke-width="1"/>
<line x1="323.1" y1="822.7" x2="323.1" y2="840.7" stroke="#000" stroke-width="1"/>
<path d="M336.5,827.4 V836.2 L360.6,838.7 V825.2 Z" stroke="#000" stroke-width="1" fill="none"/>
<line x1="334.5" y1="831.9" x2="362.7" y2="831.9" stroke="#000" stroke-width="1"/>
<text x="403" y="775.5" font-size="12.8" textLength="133.9" lengthAdjust="spacingAndGlyphs" class="b2">GENERAL  TOLERANCE</text>
<text x="400.8" y="793.6" font-size="12.5" textLength="12.3" lengthAdjust="spacingAndGlyphs" class="b2">X.°</text>
<text x="417.4" y="793.6" font-size="13" textLength="6.7" lengthAdjust="spacingAndGlyphs">±</text>
<text x="429.9" y="793.6" font-size="12.5" textLength="10.0" lengthAdjust="spacingAndGlyphs">3°</text>
<text x="397.1" y="810.2" font-size="12.5" textLength="16.0" lengthAdjust="spacingAndGlyphs" class="b2">.X°</text>
<text x="417.4" y="810.2" font-size="13" textLength="6.7" lengthAdjust="spacingAndGlyphs">±</text>
<text x="429.9" y="810.2" font-size="12.5" textLength="10.0" lengthAdjust="spacingAndGlyphs">2°</text>
<text x="394.1" y="827.4" font-size="12.5" textLength="19.0" lengthAdjust="spacingAndGlyphs" class="b2">.XX°</text>
<text x="417.4" y="827.4" font-size="13" textLength="6.7" lengthAdjust="spacingAndGlyphs">±</text>
<text x="431.6" y="827.4" font-size="12.5" textLength="8.3" lengthAdjust="spacingAndGlyphs">1°</text>
<text x="387.5" y="844.4" font-size="12.5" textLength="25.6" lengthAdjust="spacingAndGlyphs" class="b2">.XXX°</text>
<text x="417.4" y="844.4" font-size="13" textLength="6.7" lengthAdjust="spacingAndGlyphs">±</text>
<text x="429.6" y="844.4" font-size="12.5" textLength="20.0" lengthAdjust="spacingAndGlyphs">0.5°</text>
<text x="477.3" y="791.6" font-size="12.5" textLength="22.0" lengthAdjust="spacingAndGlyphs" class="b2">.XXX</text>
<text x="477.3" y="807.7" font-size="12.5" textLength="15.5" lengthAdjust="spacingAndGlyphs" class="b2">.XX</text>
<text x="477.3" y="824.9" font-size="12.5" textLength="8.7" lengthAdjust="spacingAndGlyphs" class="b2">.X</text>
<text x="477.3" y="842.4" font-size="12.5" textLength="12.5" lengthAdjust="spacingAndGlyphs" class="b2">X.°</text>
<text x="514.5" y="791.6" font-size="10.5" textLength="34.7" lengthAdjust="spacingAndGlyphs">±0. 10</text>
<text x="514.5" y="807.7" font-size="10.5" textLength="31.1" lengthAdjust="spacingAndGlyphs">±0. 15</text>
<text x="514.5" y="824.9" font-size="10.5" textLength="31.1" lengthAdjust="spacingAndGlyphs">±0. 25</text>
<text x="514.5" y="842.4" font-size="10.5" textLength="31.1" lengthAdjust="spacingAndGlyphs">±0. 35</text>
<text x="555.7" y="777.4" font-size="12.8" textLength="38.9" lengthAdjust="spacingAndGlyphs" class="b">DESIGN:</text>
<text x="555.7" y="799.2" font-size="12.8" textLength="48.6" lengthAdjust="spacingAndGlyphs" class="b">CHECKED:</text>
<text x="555.7" y="821.7" font-size="12.8" textLength="44.5" lengthAdjust="spacingAndGlyphs" class="b">AUDITED:</text>
<text x="555.7" y="843.5" font-size="12.8" textLength="54.6" lengthAdjust="spacingAndGlyphs" class="b">APPROVED:</text>
<text x="626.3" y="780" font-size="12" textLength="44.9" lengthAdjust="spacingAndGlyphs">HELLER</text>
<text x="632.7" y="799.8" font-size="11.5" textLength="34.7" lengthAdjust="spacingAndGlyphs" class="c">瞿益远</text>
<text x="632.7" y="821.5" font-size="11.5" textLength="34.7" lengthAdjust="spacingAndGlyphs" class="c">朱建慧</text>
<text x="632.7" y="843" font-size="11.5" textLength="34.7" lengthAdjust="spacingAndGlyphs" class="c">朱建华</text>
<text x="700.1" y="778.5" font-size="12.8" textLength="27.8" lengthAdjust="spacingAndGlyphs" class="b">DATE:</text>
<text x="745.5" y="778.5" font-size="10.7" textLength="41.3" lengthAdjust="spacingAndGlyphs">21'.1.20</text>
<text x="700.1" y="800.7" font-size="12.8" textLength="27.8" lengthAdjust="spacingAndGlyphs" class="b">DATE:</text>
<text x="745.5" y="800.7" font-size="10.7" textLength="41.3" lengthAdjust="spacingAndGlyphs">21'.1.20</text>
<text x="700.1" y="822.1" font-size="12.8" textLength="27.8" lengthAdjust="spacingAndGlyphs" class="b">DATE:</text>
<text x="745.5" y="822.1" font-size="10.7" textLength="41.3" lengthAdjust="spacingAndGlyphs">21'.1.20</text>
<text x="700.1" y="843.5" font-size="12.8" textLength="27.8" lengthAdjust="spacingAndGlyphs" class="b">DATE:</text>
<text x="745.5" y="843.5" font-size="10.7" textLength="41.3" lengthAdjust="spacingAndGlyphs">21'.1.20</text>
<text x="809.5" y="777.6" font-size="11.8" textLength="48.8" lengthAdjust="spacingAndGlyphs" class="b">DWG.  NO.</text>
<text x="809.5" y="817" font-size="11.8" textLength="48.8" lengthAdjust="spacingAndGlyphs" class="b">PART  NO.</text>
<text x="863.5" y="834.7" font-size="12.2" textLength="137.8" lengthAdjust="spacingAndGlyphs">KL−XHB−H−NAD−H01</text>
<text x="1016.2" y="777" font-size="11.5" textLength="27.8" lengthAdjust="spacingAndGlyphs" class="b">TITLE.</text>
<text x="1077.9" y="807.5" font-size="18.8" textLength="92.3" lengthAdjust="spacingAndGlyphs">XHB−H−NAD</text>
<text x="1095.5" y="832.5" font-size="18.5" textLength="60.2" lengthAdjust="spacingAndGlyphs" class="c">高温料</text>
<text x="1071.5" y="832.5" font-size="18.5" class="c">（</text>
<text x="1160.5" y="832.5" font-size="18.5" class="c">）</text>
</svg>
</body></html>
